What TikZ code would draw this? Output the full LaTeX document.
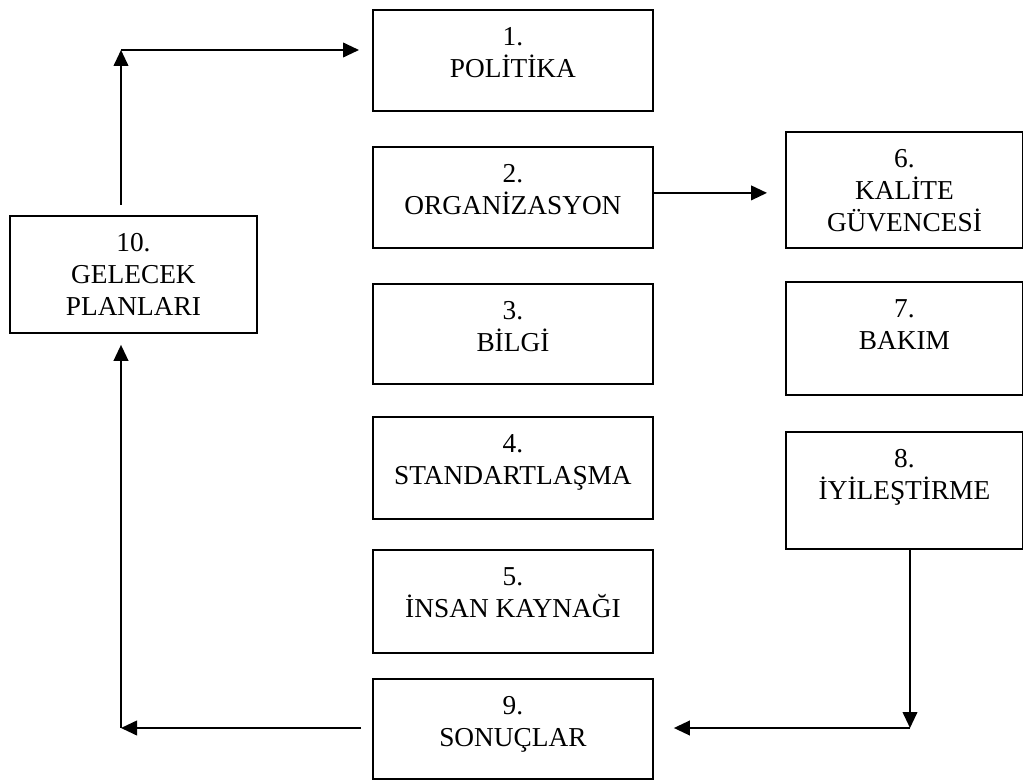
\documentclass[tikz,border=0pt]{standalone}
\usepackage{fontspec}
\setmainfont{Liberation Serif}
\usetikzlibrary{arrows.meta}
\newlength\px
\setlength\px{0.75pt}
\newcommand\bt[3]{\parbox[c][#2\px][t]{#1\px}{\centering\rule{0pt}{27pt}#3\par}}
\tikzset{
  bx/.style={draw, line width=1.4pt, inner sep=0pt, anchor=north west,
    font=\fontsize{20.5pt}{24pt}\selectfont},
  arr/.style={line width=1.4pt, -{Triangle[length=12pt,width=11pt]}},
  ln/.style={line width=1.4pt}
}
\begin{document}
\begin{tikzpicture}[x=0.75pt,y=-0.75pt]
\fill[white] (0,0) rectangle (1023,780);
\useasboundingbox (0,0) rectangle (1023,780);
% central column
\node[bx] (b1) at (372,9)   {\bt{280}{101}{1.\\POLİTİKA}};
\node[bx] (b2) at (372,146) {\bt{280}{101}{2.\\ORGANİZASYON}};
\node[bx] (b3) at (372,283) {\bt{280}{100}{3.\\BİLGİ}};
\node[bx] (b4) at (372,416) {\bt{280}{102}{4.\\STANDARTLAŞMA}};
\node[bx] (b5) at (372,549) {\bt{280}{103}{5.\\İNSAN KAYNAĞI}};
\node[bx] (b9) at (372,678) {\bt{280}{100}{9.\\SONUÇLAR}};
% right column
\node[bx] (b6) at (785,131) {\bt{237}{116}{6.\\KALİTE\\GÜVENCESİ}};
\node[bx] (b7) at (785,281) {\bt{237}{113}{7.\\BAKIM}};
\node[bx] (b8) at (785,431) {\bt{237}{117}{8.\\İYİLEŞTİRME}};
% left
\node[bx] (b10) at (9,215) {\bt{247}{117}{10.\\GELECEK\\PLANLARI}};
% corner points
\coordinate (c1) at (121,50);
\coordinate (c3) at (910,728);
\coordinate (c4) at (121,728);
% connectors
\draw[arr, shorten <=7.5pt] (c1 |- b10.north) -- (c1);
\draw[arr, shorten >=9.75pt] (c1) -- (c1 -| b1.west);
\draw[arr, shorten >=13.5pt] ([yshift=3.4pt]b2.east) -- ([yshift=3.4pt]b2.east -| b6.west);
\draw[arr] (c3 |- b8.south) -- (c3);
\draw[arr, shorten >=15pt] (c3) -- (c3 -| b9.east);
\draw[arr, shorten <=8.25pt] (c4 -| b9.west) -- (c4);
\draw[arr, shorten >=8.25pt] (c4) -- (c4 |- b10.south);
\end{tikzpicture}
\end{document}
